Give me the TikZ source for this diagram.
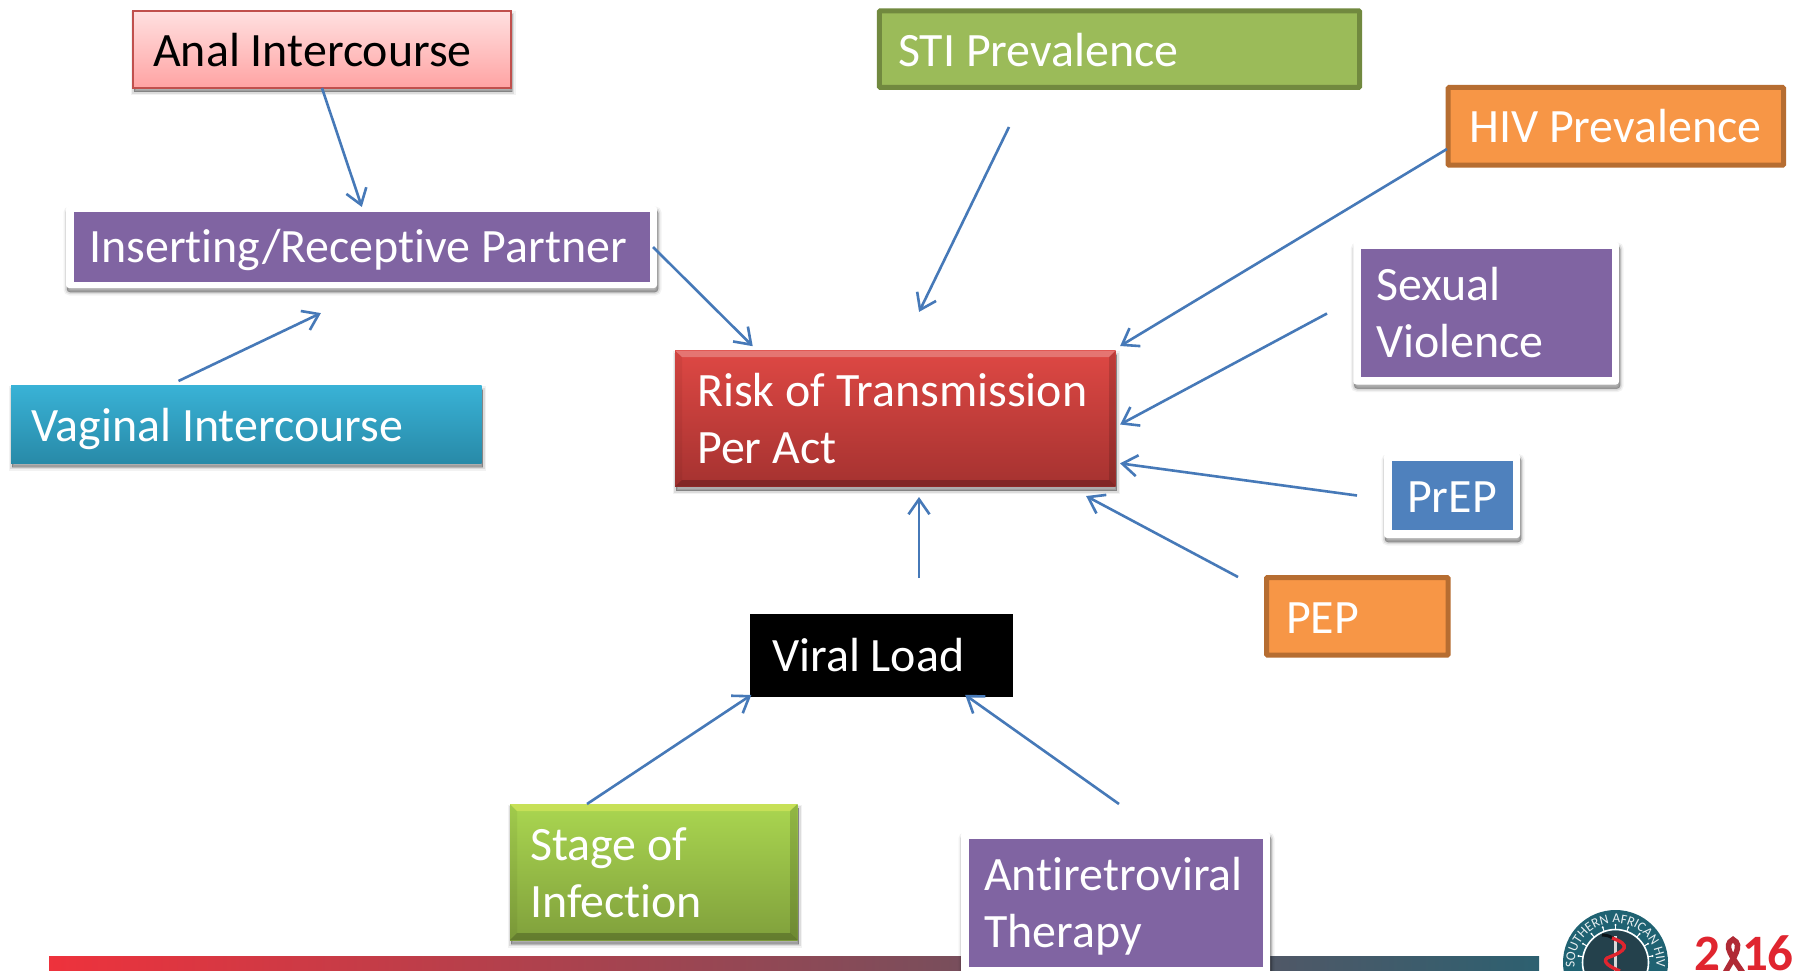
\documentclass[tikz,border=0pt]{standalone}
\usepackage{fontspec}
\setmainfont[Ligatures=NoCommon]{Carlito}
\usetikzlibrary{arrows.meta,shadows,calc,decorations.text}
\definecolor{arrowblue}{HTML}{4679B8}
\definecolor{purp}{HTML}{8064A2}
\definecolor{orng}{HTML}{F79646}
\definecolor{orngdk}{HTML}{B66D31}
\definecolor{olive}{HTML}{9BBB59}
\definecolor{olivedk}{HTML}{71893F}
\definecolor{prep}{HTML}{4F81BD}
\definecolor{logoteal}{HTML}{1F6272}
\definecolor{logodark}{HTML}{24414C}
\definecolor{logored}{HTML}{E0252F}
\definecolor{ribbon}{HTML}{B02A35}
\definecolor{barleft}{HTML}{EE323C}
\definecolor{barright}{HTML}{2D6070}
\tikzset{
  x=1pt,y=-1pt,
  txt/.style={font=\fontsize{47.9}{57}\selectfont,align=left,text=white,inner sep=0pt},
  box/.style={rectangle,inner sep=0pt,outer sep=0pt},
  softshadow/.style={
    drop shadow={shadow xshift=1pt,shadow yshift=-4pt,fill=black,draw=black,line width=7pt,opacity=.05},
    drop shadow={shadow xshift=1pt,shadow yshift=-4pt,fill=black,draw=black,line width=4pt,opacity=.09},
    drop shadow={shadow xshift=1pt,shadow yshift=-4pt,fill=black,draw=black,line width=1pt,opacity=.16}},
  framed/.style={box,fill=white,rounded corners=3pt,softshadow},
  borderbox/.style={box,fill=#1,line width=5pt,rounded corners=1pt},
  conn/.style={draw=arrowblue,line width=2.6pt,shorten >=-1pt,-{Straight Barb[length=15pt,width=21pt,line width=2.6pt]}},
  yeartxt/.style={anchor=base west,inner sep=0pt,text=logored,font=\fontsize{51}{51}\selectfont\bfseries},
}
\newcommand{\boxat}[6][]{% style, name, x0,y0,x1,y1
  \node[box,#1,minimum width=\dimexpr#5pt-#3pt\relax,minimum height=\dimexpr#6pt-#4pt\relax,anchor=north west] (#2) at (#3,#4) {};}
\begin{document}
\begin{tikzpicture}
\useasboundingbox (0,0) rectangle (1794,971);
\fill[white] (0,0) rectangle (1794,971);
% bottom bar
\shade[left color=barleft,right color=barright] (49,956) rectangle (1539,971);
% logo
\begin{scope}
\clip (0,0) rectangle (1794,971);
\fill[logoteal] (1615.5,962.5) circle (52.5);
\fill[logodark] (1615.5,962.5) circle (32);
\draw[white,line width=1.6pt] (1615.5,962.5) circle (33);
\foreach \a in {-170,-150,...,-10}{
  \draw[white,line width=1pt] ($(1615.5,962.5)+(\a:33)$) -- ($(1615.5,962.5)+(\a:37)$);
  \fill[white] ($(1615.5,962.5)+(\a:37.5)$) circle (1.1);
}
\draw[black!70!logodark,line width=3pt] (1602,935) .. controls (1608,935) and (1612,937) .. (1615,940);
\draw[white!85!black,line width=2.4pt] (1615.5,936) -- (1615.5,971);
\draw[logored,line width=3.4pt] (1612,938) .. controls (1632,945) and (1626,951) .. (1607,958) .. controls (1602,962) and (1610,967) .. (1620,971);
\path[decorate,decoration={text along path,text align=center,text={|\fontsize{13.5}{14}\selectfont\color{white!90!logoteal}|SOUTHERN AFRICAN HIV}}]
  (1574.5,964) arc[start angle=180,end angle=360,radius=41];
% 2016
\node[yeartxt] (yr2) at (1694,970.5) {2};
\draw[line width=5.5pt,draw=ribbon] (1743,973) .. controls (1733,958) and (1722,945) .. (1733,939.5) .. controls (1744,945) and (1733,958) .. (1725,973);
\node[yeartxt] (yr1) at (1742,970.5) {1};
\node[yeartxt] (yr6) at (1767,970.5) {6};
\end{scope}
% Boxes
\boxat[draw={rgb,255:red,192;green,80;blue,77},line width=2pt,top color=red!12,bottom color={rgb,255:red,255;green,163;blue,163},softshadow]{anal}{133}{11}{511}{88}
\boxat[borderbox=olive,draw=olivedk]{sti}{879.4}{10.8}{1359.6}{87.4}
\boxat[borderbox=orng,draw=orngdk]{hiv}{1448.2}{87.5}{1783.5}{165.2}
\boxat[framed]{ins}{66}{206}{657}{288}
\fill[purp] (74,212) rectangle (649.5,281.5);
\boxat[top color={rgb,255:red,57;green,178;blue,214},bottom color={rgb,255:red,40;green,138;blue,168},softshadow]{vag}{11}{385.5}{481.5}{463}
\boxat[framed]{sex}{1353.3}{242}{1619}{384.5}
\fill[purp] (1361.3,249) rectangle (1611.7,376.7);
\boxat[framed]{pre}{1384}{453.5}{1520}{538}
\fill[prep] (1391.7,461) rectangle (1512.7,530);
\boxat[borderbox=orng,draw=orngdk]{pep}{1266.5}{577.5}{1448.2}{655.2}
\boxat[fill=black]{vir}{750}{614}{1012.5}{697}
\boxat[framed]{art}{961}{832}{1270}{975}
\fill[purp] (969,839) rectangle (1263,967);
% bevelled
\boxat[top color={rgb,255:red,222;green,72;blue,68},bottom color={rgb,255:red,165;green,50;blue,48},softshadow]{risk}{675}{350.5}{1115.7}{486.7}
\fill[white,opacity=.25] (675,350.5) -- (1115.7,350.5) -- (1109,357) -- (682,357) -- cycle;
\fill[black,opacity=.22] (675,486.7) -- (1115.7,486.7) -- (1109,480) -- (682,480) -- cycle;
\fill[black,opacity=.14] (1115.7,350.5) -- (1115.7,486.7) -- (1109,480) -- (1109,357) -- cycle;
\fill[black,opacity=.05] (675,350.5) -- (675,486.7) -- (682,480) -- (682,357) -- cycle;
\boxat[top color={rgb,255:red,170;green,214;blue,80},bottom color={rgb,255:red,128;green,160;blue,60},softshadow]{stage}{510}{804}{797.5}{940}
\fill[yellow!60!white,opacity=.35] (510,804) -- (797.5,804) -- (790,811) -- (517,811) -- cycle;
\fill[black,opacity=.22] (510,940) -- (797.5,940) -- (790,933) -- (517,933) -- cycle;
\fill[black,opacity=.14] (797.5,804) -- (797.5,940) -- (790,933) -- (790,811) -- cycle;
\fill[black,opacity=.05] (510,804) -- (510,940) -- (517,933) -- (517,811) -- cycle;
% Texts
\node[txt,text=black,anchor=west] (tanal) at (153,50) {Anal Intercourse};
\node[txt,anchor=west] (tsti) at (898,50) {STI Prevalence};
\node[txt,anchor=west] (thiv) at (1469,126.5) {HIV Prevalence};
\node[txt,anchor=west] (tins) at (89,249.5) {Inserting/Receptive Partner};
\node[txt,anchor=west] (tvag) at (31,428.5) {Vaginal Intercourse};
\node[txt,anchor=west] (trisk) at (697,419) {Risk of Transmission\\Per Act};
\node[txt,anchor=west] (tsex) at (1376,313) {Sexual\\Violence};
\node[txt,anchor=west] (tpre) at (1407,497) {PrEP};
\node[txt,anchor=west] (tpep) at (1286,618) {PEP};
\node[txt,anchor=west] (tvir) at (772,655.5) {Viral Load};
\node[txt,anchor=west] (tsta) at (530,873) {Stage of\\Infection};
\node[txt,anchor=west] (tart) at (984,906.5) {Antiretroviral\\Therapy};
% free ends
\coordinate (a1) at (178.5,381);
\coordinate (a2) at (320,313.5);
\coordinate (a3) at (653,247);
\coordinate (a4) at (752,345.5);
\coordinate (a5) at (1009,127);
\coordinate (a6) at (919.5,311);
\coordinate (a7) at (1121,345.5);
\coordinate (a8) at (1327,313.5);
\coordinate (a9) at (1121,424);
\coordinate (a10) at (1357,495.5);
\coordinate (a11) at (1121,463.5);
\coordinate (a12) at (1238,577);
\coordinate (a13) at (1087,496.5);
\coordinate (a14) at (919,578);
\coordinate (a15) at (919,498);
\coordinate (a16) at (587,804);
\coordinate (a17) at (750.5,695.5);
\coordinate (a18) at (1119,804);
\coordinate (a19) at (966,695.5);
\coordinate (a20) at (1447,149);
% Connectors
\draw[conn] (anal.south) -- (ins.north);
\draw[conn] (a1) -- (a2);
\draw[conn] (a3) -- (a4);
\draw[conn] (a5) -- (a6);
\draw[conn] (a20) -- (a7);
\draw[conn] (a8) -- (a9);
\draw[conn] (a10) -- (a11);
\draw[conn] (a12) -- (a13);
\draw[conn] (a14) -- (a15);
\draw[conn] (a16) -- (a17);
\draw[conn] (a18) -- (a19);
\end{tikzpicture}
\end{document}
